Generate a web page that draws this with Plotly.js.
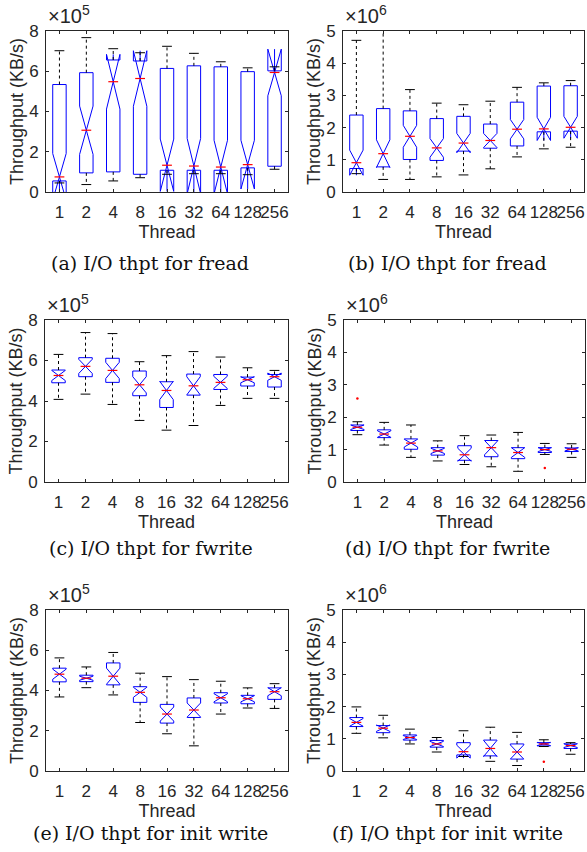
<!DOCTYPE html>
<html>
<head>
<meta charset="utf-8">
<script src="https://cdn.plot.ly/plotly-3.0.1.min.js"></script>
<style>html,body{margin:0;padding:0;background:#fff;}#chart{width:587px;height:852px;}</style>
</head>
<body>
<div id="chart"></div>
<script>
// Thread counts (x categories)
const threads = ['1', '2', '4', '8', '16', '32', '64', '128', '256'];

// (a) fread, units of 1e5 KB/s
const aLower = [0.45, 0.37, 0.55, 0.71, 0.88, 0.91, 0.91, 0.86, 1.13];
const aQ1    = [0.55, 0.95, 1.00, 0.88, 1.08, 1.08, 1.08, 1.20, 1.28];
const aMed   = [0.75, 3.07, 5.48, 5.64, 1.33, 1.29, 1.24, 1.36, 5.94];
const aQ3    = [5.34, 5.93, 6.56, 6.51, 6.14, 6.27, 6.22, 5.98, 6.02];
const aUpper = [7.02, 7.67, 7.12, 6.92, 7.24, 6.89, 6.47, 6.17, 6.22];
const aNotch = [1.16, 1.20, 1.36, 1.38, 1.30, 1.37, 1.33, 1.21, 1.16];

// (b) fread, units of 1e6 KB/s
const bLower = [0.57, 0.39, 0.39, 0.47, 0.53, 0.72, 1.09, 1.34, 1.39];
const bQ1    = [0.73, 0.78, 1.01, 0.98, 1.27, 1.36, 1.43, 1.87, 1.89];
const bMed   = [0.91, 1.19, 1.73, 1.37, 1.52, 1.60, 1.95, 1.96, 2.01];
const bQ3    = [2.39, 2.59, 2.52, 2.28, 2.35, 2.11, 2.79, 3.29, 3.30];
const bUpper = [4.71, 5.30, 3.18, 2.76, 2.71, 2.82, 3.25, 3.39, 3.46];
const bNotch = [0.39, 0.43, 0.34, 0.29, 0.30, 0.22, 0.30, 0.36, 0.34];

// (c) fwrite, units of 1e5 KB/s
const cLower = [4.08, 4.34, 3.83, 3.04, 2.56, 2.79, 3.78, 4.13, 4.13];
const cQ1    = [4.90, 5.20, 4.92, 4.26, 3.68, 4.29, 4.57, 4.74, 4.69];
const cMed   = [5.26, 5.71, 5.51, 4.80, 4.52, 4.75, 4.92, 5.05, 5.20];
const cQ3    = [5.53, 6.14, 6.11, 5.48, 4.95, 5.33, 5.31, 5.18, 5.31];
const cUpper = [6.30, 7.38, 7.33, 5.94, 6.24, 6.44, 6.17, 5.64, 5.51];
const cNotch = [0.25, 0.35, 0.40, 0.40, 0.45, 0.45, 0.30, 0.15, 0.18];

// (d) fwrite, units of 1e6 KB/s
const dLower = [1.46, 1.14, 0.76, 0.65, 0.54, 0.47, 0.33, 0.85, 0.76];
const dQ1    = [1.59, 1.37, 1.01, 0.83, 0.67, 0.78, 0.72, 0.91, 0.94];
const dMed   = [1.69, 1.48, 1.20, 0.96, 0.84, 1.06, 0.91, 1.00, 1.01];
const dQ3    = [1.76, 1.61, 1.33, 1.06, 1.12, 1.28, 1.06, 1.06, 1.05];
const dUpper = [1.86, 1.84, 1.76, 1.27, 1.43, 1.45, 1.53, 1.19, 1.18];
const dNotch = [0.07, 0.10, 0.12, 0.08, 0.20, 0.22, 0.15, 0.06, 0.05];
const dOutX  = ['1', '128'];
const dOutY  = [2.58, 0.43];

// (e) init write, units of 1e5 KB/s
const eLower = [3.68, 4.14, 3.78, 2.41, 1.85, 1.25, 2.83, 3.13, 3.11];
const eQ1    = [4.43, 4.44, 4.28, 3.41, 2.38, 2.66, 3.38, 3.34, 3.56];
const eMed   = [4.81, 4.61, 4.71, 3.91, 2.83, 3.03, 3.64, 3.59, 3.94];
const eQ3    = [5.11, 4.76, 5.37, 4.19, 3.31, 3.63, 3.89, 3.76, 4.13];
const eUpper = [5.62, 5.17, 5.89, 4.86, 4.69, 4.54, 4.46, 4.13, 4.34];
const eNotch = [0.25, 0.10, 0.40, 0.25, 0.35, 0.35, 0.20, 0.15, 0.20];

// (f) init write, units of 1e6 KB/s
const fLower = [1.17, 1.03, 0.84, 0.59, 0.45, 0.30, 0.17, 0.76, 0.52];
const fQ1    = [1.38, 1.19, 0.96, 0.74, 0.50, 0.47, 0.37, 0.78, 0.70];
const fMed   = [1.51, 1.33, 1.04, 0.84, 0.60, 0.70, 0.59, 0.84, 0.79];
const fQ3    = [1.66, 1.41, 1.12, 0.95, 0.88, 0.96, 0.84, 0.88, 0.84];
const fUpper = [1.99, 1.73, 1.30, 1.04, 1.25, 1.36, 1.20, 0.97, 0.88];
const fNotch = [0.12, 0.10, 0.06, 0.08, 0.20, 0.25, 0.22, 0.05, 0.06];
const fOutX  = ['128'];
const fOutY  = [0.29];

// Axis tick labels and captions
const yTicks5 = [0, 2, 4, 6, 8];
const yTicks6 = [0, 1, 2, 3, 4, 5];
const captions = [
  '(a) I/O thpt for fread', '(b) I/O thpt for fread',
  '(c) I/O thpt for fwrite', '(d) I/O thpt for fwrite',
  '(e) I/O thpt for init write', '(f) I/O thpt for init write'
];
const exponents = ['5', '6', '5', '6', '5', '6'];

const panels = [
  {lo: aLower, q1: aQ1, med: aMed, q3: aQ3, up: aUpper, notch: aNotch, ox: [], oy: [], ticks: yTicks5},
  {lo: bLower, q1: bQ1, med: bMed, q3: bQ3, up: bUpper, notch: bNotch, ox: [], oy: [], ticks: yTicks6},
  {lo: cLower, q1: cQ1, med: cMed, q3: cQ3, up: cUpper, notch: cNotch, ox: [], oy: [], ticks: yTicks5},
  {lo: dLower, q1: dQ1, med: dMed, q3: dQ3, up: dUpper, notch: dNotch, ox: dOutX, oy: dOutY, ticks: yTicks6},
  {lo: eLower, q1: eQ1, med: eMed, q3: eQ3, up: eUpper, notch: eNotch, ox: [], oy: [], ticks: yTicks5},
  {lo: fLower, q1: fQ1, med: fMed, q3: fQ3, up: fUpper, notch: fNotch, ox: fOutX, oy: fOutY, ticks: yTicks6}
];

// Plot-area pixel boxes [left, right, top, bottom]
const W = 587, H = 852;
const boxes = [
  [46, 288, 31, 192], [343, 584, 31, 192],
  [45, 288, 320, 482], [344, 585, 320, 482],
  [46, 288, 610, 771], [343, 584, 610, 771]
];
const captionX = [150, 447, 151, 447, 150, 447];
const captionY = [263, 263, 548, 548, 833, 833];

const AX = '#262626';
const TF = {family: 'Liberation Sans, Arial, sans-serif', size: 17, color: AX};
const TT = {family: 'Liberation Sans, Arial, sans-serif', size: 18, color: AX};
const EF = {family: 'Liberation Sans, Arial, sans-serif', size: 20, color: AX};

const traces = [];
const layout = {
  width: W, height: H,
  margin: {l: 0, r: 0, t: 0, b: 0},
  paper_bgcolor: '#fff', plot_bgcolor: '#fff',
  showlegend: false,
  annotations: []
};

panels.forEach((p, k) => {
  const n = k + 1;
  const xa = 'x' + (n === 1 ? '' : n), ya = 'y' + (n === 1 ? '' : n);
  const xk = 'xaxis' + (n === 1 ? '' : n), yk = 'yaxis' + (n === 1 ? '' : n);
  // whiskers
  const wx = [], wy = [];
  threads.forEach((t, i) => {
    wx.push(t, t, null, t, t, null);
    wy.push(p.q3[i], p.up[i], null, p.q1[i], p.lo[i], null);
  });
  traces.push({type: 'scatter', mode: 'lines', x: wx, y: wy, xaxis: xa, yaxis: ya,
    line: {color: '#000', width: 1, dash: 'dot'}, hoverinfo: 'skip', connectgaps: false});
  // notched boxes
  traces.push({type: 'box', x: threads, q1: p.q1, median: p.med, q3: p.q3,
    lowerfence: p.q1, upperfence: p.q3, notchspan: p.notch, notched: true, notchwidth: 0.5,
    width: 0.5, whiskerwidth: 0, boxpoints: false, xaxis: xa, yaxis: ya,
    line: {color: '#0000ff', width: 1}, fillcolor: 'rgba(0,0,0,0)', hoverinfo: 'skip'});
  // whisker caps
  traces.push({type: 'scatter', mode: 'markers', x: threads.concat(threads), y: p.up.concat(p.lo),
    xaxis: xa, yaxis: ya, hoverinfo: 'skip',
    marker: {symbol: 'line-ew', size: 7, line: {color: '#000', width: 1}}});
  // medians
  traces.push({type: 'scatter', mode: 'markers', x: threads, y: p.med, xaxis: xa, yaxis: ya,
    hoverinfo: 'skip', marker: {symbol: 'line-ew', size: 7, line: {color: '#ff0000', width: 1.2}}});
  // outliers
  if (p.ox.length) {
    traces.push({type: 'scatter', mode: 'markers', x: p.ox, y: p.oy, xaxis: xa, yaxis: ya,
      hoverinfo: 'skip', marker: {symbol: 'circle', size: 2.5, color: '#ff0000'}});
  }
  const b = boxes[k];
  layout[xk] = {
    domain: [b[0] / W, b[1] / W], anchor: ya,
    type: 'category', categoryorder: 'array', categoryarray: threads,
    tickmode: 'array', tickvals: threads, ticktext: threads, tickangle: 0,
    range: [-0.5, 8.5], fixedrange: true,
    showline: true, linecolor: AX, linewidth: 1, mirror: 'ticks',
    ticks: 'inside', ticklen: 3, tickcolor: AX, tickwidth: 1,
    showgrid: false, zeroline: false, tickfont: TF, ticklabelstandoff: 5,
    title: {text: 'Thread', font: TT, standoff: 1}
  };
  layout[yk] = {
    domain: [1 - b[3] / H, 1 - b[2] / H], anchor: xa,
    range: [0, p.ticks[p.ticks.length - 1]], fixedrange: true,
    tickmode: 'array', tickvals: p.ticks, ticktext: p.ticks.map(String),
    showline: true, linecolor: AX, linewidth: 1, mirror: 'ticks',
    ticks: 'inside', ticklen: 3, tickcolor: AX, tickwidth: 1,
    showgrid: false, zeroline: false, tickfont: TF, ticklabelstandoff: 3,
    title: {text: 'Throughput (KB/s)', font: TT, standoff: 0}
  };
  layout.annotations.push({
    xref: 'paper', yref: 'paper', x: b[0] / W, y: 1 - (b[2] - 2) / H,
    xanchor: 'left', yanchor: 'bottom', showarrow: false,
    text: '×10<sup>' + exponents[k] + '</sup>', font: EF
  });
  layout.annotations.push({
    xref: 'paper', yref: 'paper', x: captionX[k] / W, y: 1 - captionY[k] / H,
    xanchor: 'center', yanchor: 'middle', showarrow: false,
    text: captions[k], font: {family: 'DejaVu Serif, serif', size: 19, color: '#111'}
  });
});

Plotly.newPlot('chart', traces, layout, {staticPlot: true, displayModeBar: false});
</script>
</body>
</html>
